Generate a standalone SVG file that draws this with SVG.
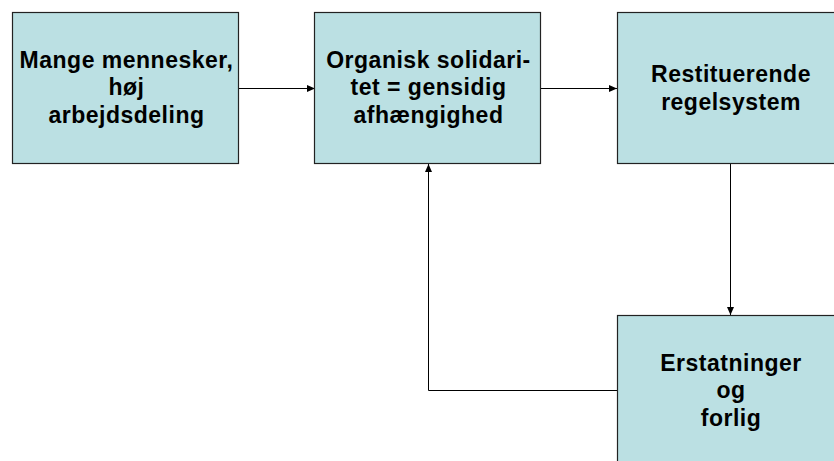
<svg xmlns="http://www.w3.org/2000/svg" width="834" height="461" viewBox="0 0 834 461">
<style>
.box{fill:#BBE0E3;stroke:#222;stroke-width:1.2}
.t{font-family:"Liberation Sans",Arial,sans-serif;font-weight:bold;font-size:23px;letter-spacing:0.5px;fill:#000;text-anchor:middle}
.c{fill:none;stroke:#000;stroke-width:1}
</style>
<defs>
<marker id="ah" viewBox="0 0 8 8" refX="8" refY="4" markerWidth="8" markerHeight="8" markerUnits="userSpaceOnUse" orient="auto">
<path d="M0,0.5 L8,4 L0,7.5 Z" fill="#000"/>
</marker>
</defs>
<rect width="834" height="461" fill="#fff"/>
<g id="connectors">
<line class="c" x1="239" y1="88.5" x2="315" y2="88.5" marker-end="url(#ah)"/>
<line class="c" x1="541" y1="88.5" x2="617" y2="88.5" marker-end="url(#ah)"/>
<line class="c" x1="730.5" y1="164" x2="730.5" y2="315" marker-end="url(#ah)"/>
<polyline class="c" points="617,390.5 428.5,390.5 428.5,164" marker-end="url(#ah)"/>
</g>
<g id="n1">
<rect class="box" x="12.5" y="12.5" width="226" height="151"/>
<text class="t" x="126.5" y="67.5">Mange mennesker,</text>
<text class="t" x="126.5" y="95">høj</text>
<text class="t" x="126.5" y="122.5">arbejdsdeling</text>
</g>
<g id="n2">
<rect class="box" x="314.5" y="12.5" width="226" height="151"/>
<text class="t" x="428.5" y="67.5">Organisk solidari-</text>
<text class="t" x="428.5" y="95">tet = gensidig</text>
<text class="t" x="428.5" y="122.5">afhængighed</text>
</g>
<g id="n3">
<rect class="box" x="617.5" y="12.5" width="226" height="151"/>
<text class="t" x="731" y="82">Restituerende</text>
<text class="t" x="731" y="109.5">regelsystem</text>
</g>
<g id="n4">
<rect class="box" x="617.5" y="315.5" width="226" height="151"/>
<text class="t" x="731" y="370.5">Erstatninger</text>
<text class="t" x="731" y="398">og</text>
<text class="t" x="731" y="425.5">forlig</text>
</g>
</svg>
